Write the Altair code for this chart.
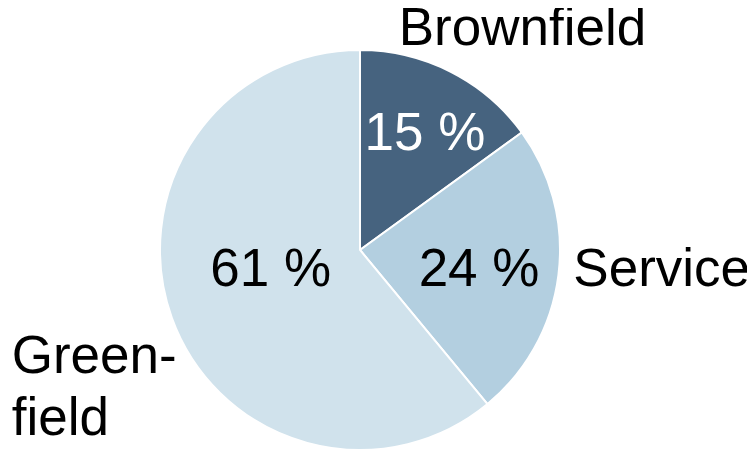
import altair as alt
import pandas as pd

categories = ["Brownfield", "Service", "Greenfield"]
values = [15, 24, 61]
pct_labels = ["15 %", "24 %", "61 %"]
name_labels = ["Brownfield", "Service", "Green-\nfield"]
colors = ["#46637f", "#b3cfe0", "#d0e2ec"]

df = pd.DataFrame({
    "category": categories,
    "value": values,
    "pct": pct_labels,
    "name": name_labels,
    "order": list(range(len(categories))),
})

CX, CY = 352, 242
FONT = "Liberation Sans"
FS = 53

arc = alt.Chart(df).mark_arc(outerRadius=200, stroke="white", strokeWidth=2).encode(
    theta=alt.Theta("value:Q", stack=True),
    order=alt.Order("order:Q"),
    x=alt.value(CX),
    y=alt.value(CY),
    color=alt.Color("category:N", scale=alt.Scale(domain=categories, range=colors), legend=None),
)

label_base = alt.Chart(df).transform_window(
    cum="sum(value)", sort=[alt.SortField("order")], frame=[None, 0]
).transform_joinaggregate(
    total="sum(value)"
).transform_calculate(
    mid="(datum.cum - datum.value / 2) / datum.total"
)

def txt(cat, field, radius, color="black", dx=0, dy=0, align="center"):
    return label_base.transform_filter(alt.datum.category == cat).mark_text(
        radius=radius, font=FONT, fontSize=FS, color=color, dx=dx, dy=dy,
        align=align, baseline="middle", lineBreak="\n", lineHeight=62,
    ).encode(
        theta=alt.Theta("mid:Q", scale=alt.Scale(domain=[0, 1]), stack=False),
        x=alt.value(CX),
        y=alt.value(CY),
        text=f"{field}:N",
    )

layers = [
    arc,
    txt("Brownfield", "pct", 130, color="white", dx=6),
    txt("Service", "pct", 120, dy=5),
    txt("Greenfield", "pct", 95, dy=-12),
    txt("Brownfield", "name", 250, dx=49, dy=2),
    txt("Service", "name", 215, dy=-7, align="left"),
    txt("Greenfield", "name", 300, dx=-66, dy=5, align="left"),
]

chart = alt.layer(*layers).resolve_scale(theta="independent").properties(
    width=739, height=442, padding=0,
    autosize=alt.AutoSizeParams(type="none"),
).configure_view(stroke=None)

chart.save("out.html", embed_options={"renderer": "svg", "actions": False})
